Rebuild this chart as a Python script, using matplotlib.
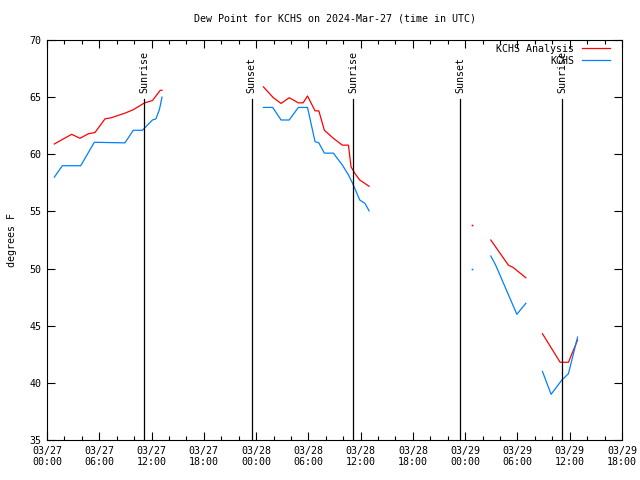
import numpy as np
import matplotlib
matplotlib.use("Agg")
import matplotlib.pyplot as plt

nan = np.nan

# hours since 03/27 00:00 UTC
red_hours = [0.84, 2.83, 3.79, 4.75, 5.5, 6.66, 7.4, 8.95, 9.9, 11.2, 12.1, 13.0, 13.2, nan,
             24.84, 25.98, 26.87, 27.8, 28.85, 29.4, 29.9, 30.77, 31.2, 31.84, 32.87, 33.9,
             34.6, 34.9, 35.36, 35.9, 36.97, nan,
             48.83, nan,
             50.94, 52.96, 53.5, 54.96, nan,
             56.87, 58.9, 59.85, 60.9]
red_vals = [60.9, 61.75, 61.4, 61.8, 61.9, 63.1, 63.2, 63.6, 63.9, 64.5, 64.7, 65.6, 65.6, nan,
            65.9, 64.95, 64.45, 64.95, 64.5, 64.5, 65.1, 63.8, 63.8, 62.1, 61.4, 60.8,
            60.8, 58.9, 58.3, 57.75, 57.2, nan,
            53.8, nan,
            52.5, 50.3, 50.1, 49.2, nan,
            44.3, 41.8, 41.8, 43.75]

blue_hours = [0.84, 1.76, 3.87, 5.43, 8.95, 9.9, 10.95, 12.1, 12.5, 12.9, 13.2, nan,
              24.84, 25.9, 26.87, 27.8, 28.85, 29.9, 30.77, 31.2, 31.84, 32.87, 33.9,
              34.6, 35.05, 35.9, 36.5, 36.97, nan,
              48.83, nan,
              50.94, 51.5, 53.93, 54.96, nan,
              56.87, 57.86, 59.1, 59.85, 60.9]
blue_vals = [58.0, 59.0, 59.0, 61.05, 61.0, 62.1, 62.1, 63.0, 63.1, 63.9, 65.0, nan,
             64.1, 64.1, 63.0, 63.0, 64.1, 64.1, 61.1, 61.0, 60.1, 60.1, 59.06,
             58.2, 57.5, 56.0, 55.7, 55.05, nan,
             50.0, nan,
             51.1, 50.3, 46.0, 46.96, nan,
             41.0, 39.0, 40.25, 40.8, 44.0]

sun_hours = [11.17, 23.5, 35.17, 47.45, 59.16]
sun_labels = ["Sunrise", "Sunset", "Sunrise", "Sunset", "Sunrise"]

tick_hours = list(range(0, 67, 6))
tick_labels = ["03/27\n00:00", "03/27\n06:00", "03/27\n12:00", "03/27\n18:00",
               "03/28\n00:00", "03/28\n06:00", "03/28\n12:00", "03/28\n18:00",
               "03/29\n00:00", "03/29\n06:00", "03/29\n12:00", "03/29\n18:00"]

plt.rcParams['font.family'] = ['DejaVu Sans Mono']
plt.rcParams['font.size'] = 7.2

fig = plt.figure(figsize=(6.4, 4.8), dpi=100)
ax = fig.add_axes([47/640, 40/480, 575/640, 400/480])

ax.plot(red_hours, red_vals, color='#ff0000', lw=0.9, label='KCHS Analysis')
ax.plot(blue_hours, blue_vals, color='#0080ff', lw=0.9, label='KCHS')

# single isolated observations
ax.plot([48.83], [53.8], ls='none', marker='s', ms=1.2, mew=0, color='#ff0000')
ax.plot([48.83], [50.0], ls='none', marker='s', ms=1.2, mew=0, color='#0080ff')

for h, lab in zip(sun_hours, sun_labels):
    ax.plot([h, h], [35, 64.84], color='black', lw=0.9)
    ax.text(h, 65.4, lab, rotation=90, ha='center', va='bottom')

ax.set_xlim(0, 66)
ax.set_ylim(35, 70)
ax.set_xticks(tick_hours)
ax.set_xticklabels(tick_labels)
ax.set_xticks(range(0, 67, 2), minor=True)
ax.set_yticks(range(35, 71, 5))
ax.tick_params(which='both', direction='in', top=True, right=True, width=0.8)
ax.tick_params(which='major', length=6, pad=4)
ax.tick_params(which='minor', length=3)
for s in ax.spines.values():
    s.set_linewidth(0.8)

ax.set_ylabel('degrees F', labelpad=9)
ax.set_title('Dew Point for KCHS on 2024-Mar-27 (time in UTC)', fontsize=7.2, pad=13)

ax.legend(loc='upper right', frameon=False, markerfirst=False, handlelength=2.8,
          borderaxespad=0, borderpad=0, labelspacing=0.2, handletextpad=0.8,
          bbox_to_anchor=(0.979, 0.99))

fig.savefig('out.png', dpi=100)
